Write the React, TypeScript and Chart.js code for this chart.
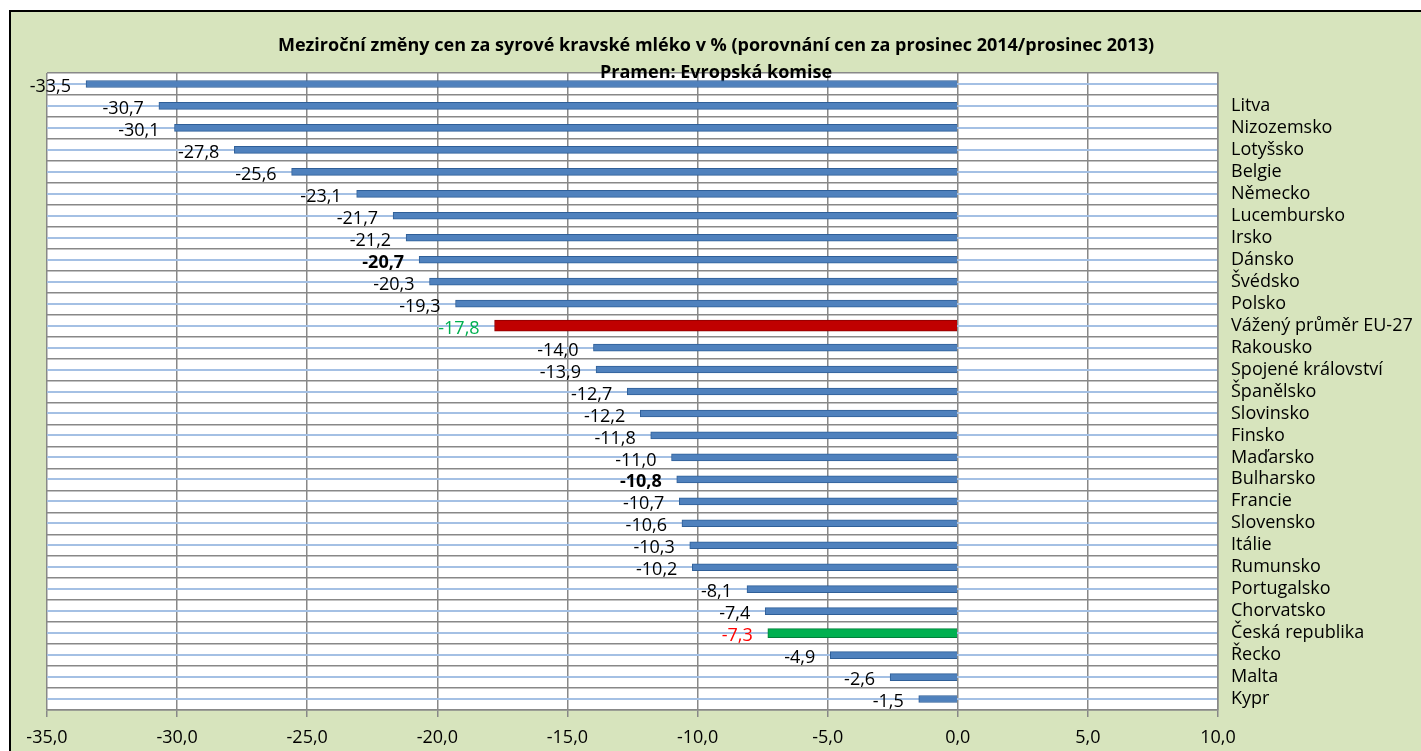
import React, { useEffect, useRef } from "react";
import { Chart, registerables } from "chart.js";

Chart.register(...registerables);

const titleLines = [
  "Meziroční změny cen za syrové kravské mléko v % (porovnání cen za prosinec 2014/prosinec 2013)",
  "Pramen: Evropská komise",
];

const categories = [
  "",
  "Litva",
  "Nizozemsko",
  "Lotyšsko",
  "Belgie",
  "Německo",
  "Lucembursko",
  "Irsko",
  "Dánsko",
  "Švédsko",
  "Polsko",
  "Vážený průměr EU-27",
  "Rakousko",
  "Spojené království",
  "Španělsko",
  "Slovinsko",
  "Finsko",
  "Maďarsko",
  "Bulharsko",
  "Francie",
  "Slovensko",
  "Itálie",
  "Rumunsko",
  "Portugalsko",
  "Chorvatsko",
  "Česká republika",
  "Řecko",
  "Malta",
  "Kypr",
];

const values = [
  -33.5, -30.7, -30.1, -27.8, -25.6, -23.1, -21.7, -21.2, -20.7, -20.3, -19.3,
  -17.8, -14.0, -13.9, -12.7, -12.2, -11.8, -11.0, -10.8, -10.7, -10.6, -10.3,
  -10.2, -8.1, -7.4, -7.3, -4.9, -2.6, -1.5,
];

const euCategory = "Vážený průměr EU-27";
const czCategory = "Česká republika";
const boldCategories = ["Dánsko", "Bulharsko"];

const xMin = -35;
const xMax = 10;
const xStep = 5;

const FONT = "'Open Sans', 'DejaVu Sans', sans-serif";

const fmt = (v: number) => v.toFixed(1).replace(".", ",");

const blueValues = values.map((v, i) =>
  categories[i] === euCategory || categories[i] === czCategory ? null : v
);
const euValues = values.map((v, i) => (categories[i] === euCategory ? v : null));
const czValues = values.map((v, i) => (categories[i] === czCategory ? v : null));

const plotBackground = {
  id: "plotBackground",
  beforeDraw(chart: any) {
    const { ctx, chartArea } = chart;
    ctx.save();
    ctx.fillStyle = "#ffffff";
    ctx.fillRect(
      chartArea.left,
      chartArea.top,
      chartArea.right - chartArea.left,
      chartArea.bottom - chartArea.top
    );
    ctx.restore();
  },
};

const valueLabels = {
  id: "valueLabels",
  afterDatasetsDraw(chart: any) {
    const { ctx } = chart;
    ctx.save();
    ctx.textAlign = "right";
    ctx.textBaseline = "middle";
    categories.forEach((cat, i) => {
      let el: any = null;
      chart.data.datasets.forEach((ds: any, di: number) => {
        if (ds.data[i] !== null && ds.data[i] !== undefined) {
          el = chart.getDatasetMeta(di).data[i];
        }
      });
      if (!el) return;
      let color = "#000000";
      if (cat === euCategory) color = "#00b050";
      if (cat === czCategory) color = "#ff0000";
      const bold = boldCategories.includes(cat);
      ctx.fillStyle = color;
      ctx.font = `${bold ? "bold " : ""}18px ${FONT}`;
      ctx.fillText(fmt(values[i]), el.x - 15, el.y + 3);
    });
    ctx.restore();
  },
};

export default function App() {
  const canvasRef = useRef<HTMLCanvasElement | null>(null);

  useEffect(() => {
    document.body.style.overflow = "hidden";
    const canvas = canvasRef.current;
    if (!canvas) return;
    const chart = new Chart(canvas, {
      type: "bar",
      data: {
        labels: categories,
        datasets: [
          {
            data: blueValues,
            backgroundColor: "#4f81bd",
            borderColor: "#2f5f98",
            borderWidth: 1,
            barThickness: 7,
            grouped: false,
            yAxisID: "y",
          } as any,
          {
            data: euValues,
            backgroundColor: "#c00000",
            borderColor: "#8c0000",
            borderWidth: 1,
            barThickness: 11,
            grouped: false,
            yAxisID: "y",
          } as any,
          {
            data: czValues,
            backgroundColor: "#00b050",
            borderColor: "#00803a",
            borderWidth: 1,
            barThickness: 9,
            grouped: false,
            yAxisID: "y",
          } as any,
        ],
      },
      options: {
        indexAxis: "y",
        responsive: false,
        animation: false,
        layout: { padding: { left: 0, top: 20, right: 0, bottom: 0 } },
        plugins: {
          legend: { display: false },
          tooltip: { enabled: false },
          title: {
            display: true,
            text: titleLines,
            color: "#000000",
            font: { family: FONT, size: 18, weight: "bold", lineHeight: 1.5 },
            padding: { top: 0, bottom: -13 },
          },
        },
        scales: {
          x: {
            type: "linear",
            min: xMin,
            max: xMax,
            ticks: {
              stepSize: xStep,
              callback: (v: any) => fmt(Number(v)),
              color: "#000000",
              font: { family: FONT, size: 18 },
              padding: 10,
            },
            grid: {
              color: "#888888",
              lineWidth: 1.5,
              tickLength: 7,
            },
            border: { color: "#888888", width: 1.5 },
            afterFit: (s: any) => {
              s.height = 41;
            },
          },
          y: {
            type: "category",
            position: "right",
            ticks: {
              color: "#000000",
              font: { family: FONT, size: 18 },
              padding: 13,
              autoSkip: false,
            },
            grid: {
              offset: true,
              color: "#888888",
              lineWidth: 1.5,
              drawTicks: false,
            },
            border: { color: "#888888", width: 1.5 },
            afterFit: (s: any) => {
              s.width = 203;
            },
          },
          y2: {
            type: "category",
            axis: "y",
            labels: categories,
            position: "left",
            offset: true,
            ticks: { display: false },
            grid: {
              offset: false,
              color: "#a4c0e4",
              lineWidth: 2,
              drawTicks: false,
            },
            border: { display: false },
            afterFit: (s: any) => {
              s.width = 36;
            },
          } as any,
        },
      } as any,
      plugins: [plotBackground, valueLabels],
    });
    return () => chart.destroy();
  }, []);

  return (
    <div
      style={{
        position: "absolute",
        left: 9,
        top: 10,
        width: 1412,
        height: 741,
        boxSizing: "border-box",
        borderLeft: "2px solid #000",
        borderTop: "2px solid #000",
        background: "#d7e4bd",
      }}
    >
      <canvas ref={canvasRef} width={1410} height={739} style={{ display: "block" }} />
    </div>
  );
}
